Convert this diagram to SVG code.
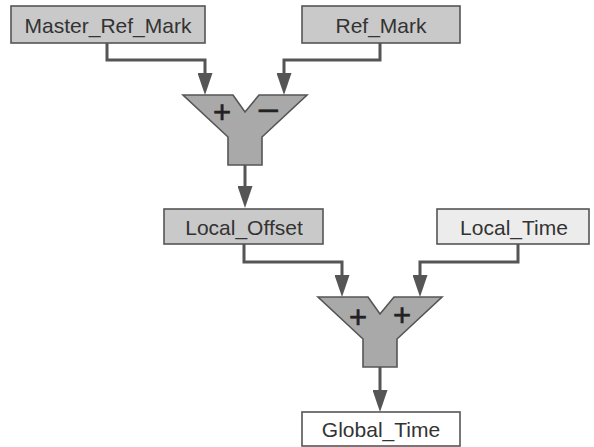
<svg xmlns="http://www.w3.org/2000/svg" width="594" height="447" viewBox="0 0 594 447">
  <style>
    .box { stroke: #555; stroke-width: 1.6; }
    .dark { fill: #c9c9c9; }
    .light { fill: #ececec; }
    .white { fill: #ffffff; }
    .label { font-family: "Liberation Sans", Arial, sans-serif; font-size: 21px; fill: #333; text-anchor: middle; }
    .sum { fill: #a9a9a9; stroke: #555; stroke-width: 1.6; stroke-linejoin: miter; }
    .sign { font-family: "Liberation Sans", Arial, sans-serif; font-size: 31px; fill: #222; text-anchor: middle; stroke: #222; stroke-width: 0.6; }
    .wire { fill: none; stroke: #555; stroke-width: 3; marker-end: url(#head); }
  </style>
  <defs>
    <marker id="head" markerUnits="userSpaceOnUse" viewBox="0 0 22 15" markerWidth="22" markerHeight="15" refX="14" refY="7.5" orient="auto">
      <path d="M0,0 L22,7.5 L0,15 z" fill="#555"/>
    </marker>
  </defs>

  <!-- connectors -->
  <g id="connectors">
    <path class="wire" d="M107,43 V60 H205 V87"/>
    <path class="wire" d="M380,43 V60 H284 V87"/>
    <path class="wire" d="M245,165 V200"/>
    <path class="wire" d="M244,244 V262 H342 V289"/>
    <path class="wire" d="M518,244 V262 H420 V289"/>
    <path class="wire" d="M380,367 V404"/>
  </g>

  <g id="master_ref_mark">
    <rect class="box dark" x="11" y="6" width="194" height="37"/>
    <text class="label" x="108" y="32.5">Master_Ref_Mark</text>
  </g>

  <g id="ref_mark">
    <rect class="box dark" x="302" y="6" width="158" height="37"/>
    <text class="label" x="381" y="32.5">Ref_Mark</text>
  </g>

  <g id="subtract">
    <polygon class="sum" points="183,95 233,95 245,112 259,95 307,95 262,137 262,165 228,165 228,137"/>
    <text class="sign" x="222" y="123">+</text>
    <text class="sign" x="268" y="121" transform="translate(268 0) scale(1.25 1) translate(-268 0)">−</text>
  </g>

  <g id="local_offset">
    <rect class="box dark" x="164" y="209" width="159" height="35"/>
    <text class="label" x="244" y="234.5">Local_Offset</text>
  </g>

  <g id="local_time">
    <rect class="box light" x="437" y="209" width="152" height="35"/>
    <text class="label" x="514" y="234.5">Local_Time</text>
  </g>

  <g id="add">
    <polygon class="sum" points="318,297 368,297 380,314 394,297 442,297 397,339 397,367 363,367 363,339"/>
    <text class="sign" x="358" y="328">+</text>
    <text class="sign" x="402" y="326">+</text>
  </g>

  <g id="global_time">
    <rect class="box white" x="302" y="412" width="158" height="34"/>
    <text class="label" x="381" y="437">Global_Time</text>
  </g>
</svg>
